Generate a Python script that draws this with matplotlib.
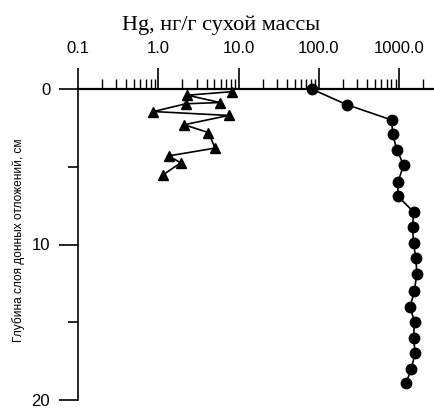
import matplotlib
matplotlib.use('Agg')
import matplotlib.pyplot as plt
from matplotlib.ticker import FixedLocator, FixedFormatter, LogLocator, NullFormatter

# depth (cm) and Hg (ng/g dry mass)
depth_circ = [0, 1, 2, 2.9, 3.9, 4.9, 6.0, 6.9, 7.9, 8.9, 9.9, 10.9, 11.9, 13, 14, 15, 16, 17, 18, 18.9]
hg_circ = [81, 221, 811, 826, 936, 1132, 964, 964, 1507, 1466, 1507, 1610, 1660, 1537, 1371, 1550, 1507, 1580, 1410, 1222]

depth_tri = [0.17, 0.4, 0.87, 0.95, 1.45, 1.7, 2.3, 2.8, 3.8, 4.3, 4.75, 5.5]
hg_tri = [8.3, 2.3, 5.9, 2.2, 0.87, 7.5, 2.1, 4.2, 5.1, 1.35, 1.9, 1.16]

x_ticks = [0.1, 1, 10, 100, 1000]
x_labels = ['0.1', '1.0', '10.0', '100.0', '1000.0']
y_ticks = [0, 10, 20]
y_minor = [5, 15]

W, H = 435, 408
fig = plt.figure(figsize=(W / 100, H / 100), dpi=100)
ax = fig.add_axes([78 / W, 1 - 400 / H, 1 - 78 / W, (400 - 89) / H])

ax.plot(hg_tri, depth_tri, color='black', lw=1.2, marker='^', ms=7.5, clip_on=False, zorder=3)
ax.plot(hg_circ, depth_circ, color='black', lw=1.2, marker='o', ms=7.5, clip_on=False, zorder=3)

ax.set_xscale('log')
ax.set_xlim(0.1, 2790)
ax.set_ylim(20, 0)

ax.xaxis.tick_top()
ax.xaxis.set_major_locator(FixedLocator(x_ticks))
ax.xaxis.set_major_formatter(FixedFormatter(x_labels))
ax.xaxis.set_minor_locator(LogLocator(base=10, subs=range(2, 10)))
ax.xaxis.set_minor_formatter(NullFormatter())

ax.yaxis.set_major_locator(FixedLocator(y_ticks))
ax.yaxis.set_minor_locator(FixedLocator(y_minor))

for s in ['right', 'bottom']:
    ax.spines[s].set_visible(False)
ax.spines['top'].set_linewidth(1.6)
ax.spines['left'].set_linewidth(1.2)

ax.tick_params(axis='x', which='major', direction='out', length=15, width=1.2, pad=9,
               labelsize=12, labelfontfamily='Liberation Sans')
ax.tick_params(axis='x', which='minor', direction='out', length=7, width=1.0)
ax.tick_params(axis='y', which='major', direction='out', length=14, width=1.2, pad=6,
               labelsize=12, labelfontfamily='Liberation Sans')
ax.tick_params(axis='y', which='minor', direction='out', length=7, width=1.2)

fig.text(221 / W, 1 - 25 / H, 'Hg, нг/г сухой массы', family='Liberation Serif',
         fontsize=16, ha='center', va='center')
fig.text(19 / W, 1 - 240 / H, 'Глубина слоя донных отложений, см',
         family='Liberation Sans', fontsize=8.6,
         rotation=90, ha='center', va='center')

fig.savefig('out.png', dpi=100)
